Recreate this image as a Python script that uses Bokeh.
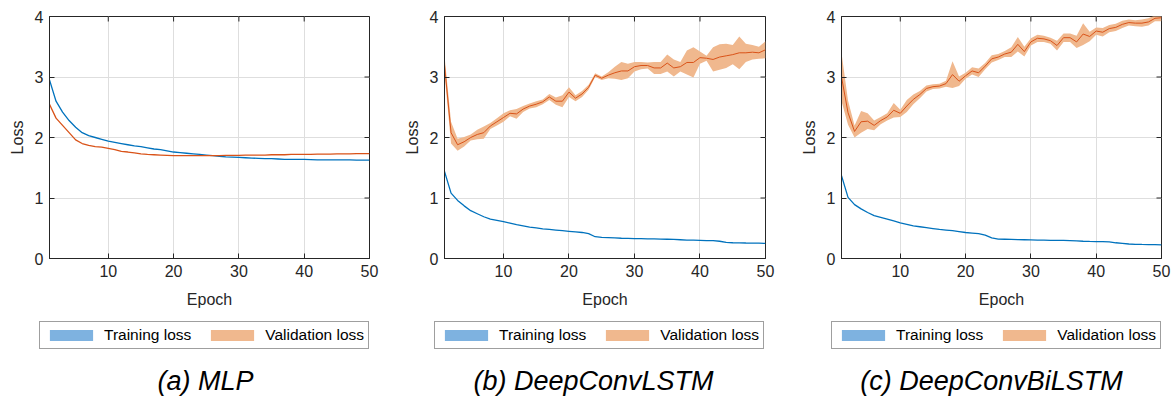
import math
from bokeh.plotting import figure
from bokeh.layouts import row, column
from bokeh.models import (Range1d, FixedTicker, Legend, LegendItem, Label, ColumnDataSource)
from bokeh.embed import file_html
from bokeh.resources import INLINE

epochs = list(range(1, 51))
x_ticks = [10, 20, 30, 40, 50]
y_ticks = [0, 1, 2, 3, 4]
captions = ["(a) MLP", "(b) DeepConvLSTM", "(c) DeepConvBiLSTM"]
legend_labels = ["Training loss", "Validation loss"]

mlp_train = [2.95, 2.60, 2.42, 2.28, 2.17, 2.08, 2.03, 2.00, 1.97, 1.94,
             1.92, 1.90, 1.88, 1.86, 1.85, 1.83, 1.81, 1.80, 1.78, 1.76,
             1.75, 1.74, 1.73, 1.72, 1.71, 1.70, 1.69, 1.68, 1.675, 1.67,
             1.665, 1.66, 1.655, 1.65, 1.65, 1.645, 1.64, 1.64, 1.64, 1.64,
             1.635, 1.63, 1.63, 1.63, 1.63, 1.63, 1.63, 1.625, 1.625, 1.625]
mlp_val = [2.55, 2.32, 2.20, 2.08, 1.96, 1.90, 1.87, 1.85, 1.84, 1.82,
           1.80, 1.77, 1.76, 1.745, 1.73, 1.72, 1.715, 1.71, 1.705, 1.70,
           1.70, 1.70, 1.70, 1.70, 1.70, 1.70, 1.70, 1.705, 1.705, 1.705,
           1.71, 1.71, 1.71, 1.71, 1.715, 1.715, 1.715, 1.72, 1.72, 1.72,
           1.72, 1.725, 1.725, 1.725, 1.73, 1.73, 1.73, 1.735, 1.735, 1.735]

lstm_train = [1.44, 1.08, 0.96, 0.87, 0.79, 0.74, 0.69, 0.65, 0.63, 0.61,
              0.585, 0.56, 0.54, 0.52, 0.505, 0.49, 0.48, 0.47, 0.46, 0.45,
              0.44, 0.43, 0.41, 0.36, 0.35, 0.345, 0.34, 0.335, 0.333, 0.33,
              0.328, 0.325, 0.323, 0.32, 0.318, 0.315, 0.31, 0.305, 0.303, 0.30,
              0.297, 0.295, 0.285, 0.265, 0.26, 0.258, 0.256, 0.255, 0.253, 0.25]
lstm_val = [3.20, 2.08, 1.88, 1.93, 2.00, 2.05, 2.08, 2.19, 2.26, 2.33,
            2.40, 2.39, 2.47, 2.52, 2.55, 2.59, 2.67, 2.60, 2.60, 2.75,
            2.65, 2.72, 2.83, 3.03, 2.98, 3.03, 3.07, 3.10, 3.10, 3.17,
            3.19, 3.19, 3.15, 3.15, 3.23, 3.15, 3.17, 3.24, 3.24, 3.32,
            3.31, 3.29, 3.33, 3.35, 3.37, 3.40, 3.40, 3.41, 3.40, 3.45]
lstm_val_std = [0.15, 0.18, 0.10, 0.08, 0.05, 0.08, 0.10, 0.05, 0.06, 0.07,
                0.05, 0.08, 0.05, 0.04, 0.05, 0.04, 0.05, 0.06, 0.10, 0.08,
                0.05, 0.05, 0.04, 0.03, 0.03, 0.05, 0.10, 0.15, 0.12, 0.08,
                0.06, 0.05, 0.10, 0.10, 0.14, 0.14, 0.08, 0.20, 0.25, 0.10,
                0.04, 0.20, 0.21, 0.20, 0.16, 0.27, 0.15, 0.12, 0.10, 0.14]

bilstm_train = [1.37, 1.01, 0.89, 0.82, 0.76, 0.71, 0.68, 0.65, 0.62, 0.59,
                0.565, 0.54, 0.525, 0.51, 0.495, 0.48, 0.47, 0.46, 0.445, 0.43,
                0.42, 0.41, 0.385, 0.34, 0.32, 0.318, 0.315, 0.312, 0.31, 0.308,
                0.305, 0.303, 0.301, 0.30, 0.298, 0.295, 0.29, 0.285, 0.282, 0.28,
                0.278, 0.275, 0.26, 0.25, 0.24, 0.235, 0.232, 0.23, 0.228, 0.225]
bilstm_val = [3.00, 2.41, 2.10, 2.26, 2.27, 2.20, 2.28, 2.34, 2.45, 2.40,
              2.52, 2.63, 2.71, 2.81, 2.84, 2.85, 2.89, 3.04, 2.93, 3.02,
              3.10, 3.07, 3.18, 3.30, 3.33, 3.38, 3.41, 3.54, 3.42, 3.58,
              3.64, 3.63, 3.60, 3.52, 3.65, 3.65, 3.58, 3.71, 3.67, 3.76,
              3.74, 3.80, 3.82, 3.87, 3.90, 3.89, 3.89, 3.91, 3.97, 3.98]
bilstm_val_std = [0.40, 0.20, 0.10, 0.18, 0.13, 0.08, 0.06, 0.06, 0.12, 0.06,
                  0.10, 0.08, 0.06, 0.05, 0.04, 0.04, 0.05, 0.22, 0.08, 0.05,
                  0.06, 0.07, 0.05, 0.06, 0.05, 0.05, 0.08, 0.12, 0.08, 0.06,
                  0.06, 0.05, 0.05, 0.08, 0.07, 0.07, 0.10, 0.18, 0.08, 0.06,
                  0.07, 0.06, 0.06, 0.06, 0.05, 0.05, 0.06, 0.06, 0.05, 0.06]

BLUE = "#0072BD"
ORANGE = "#D95319"
BLUE_FILL = "#7EB2E0"
ORANGE_FILL = "#F0B88E"
AX = "#262626"
FONT = "Liberation Sans"
TOTAL_W = 1171
TOP_H = 318
BOT_H = 80


def panel(train, val, val_std, width, left, right, val_lw):
    p = figure(width=width, height=TOP_H, output_backend="svg", toolbar_location=None,
               x_range=Range1d(1, 50), y_range=Range1d(0, 4),
               min_border_left=left, min_border_right=right,
               min_border_top=16, min_border_bottom=TOP_H - 16 - 242,
               x_axis_label="Epoch", y_axis_label="Loss")
    p.outline_line_color = AX
    p.outline_line_width = 1
    p.xaxis.ticker = FixedTicker(ticks=x_ticks)
    p.yaxis.ticker = FixedTicker(ticks=y_ticks)
    for ax in (p.xaxis[0], p.yaxis[0]):
        ax.major_tick_in = 5
        ax.major_tick_out = 0
        ax.minor_tick_line_color = None
        ax.axis_line_color = AX
        ax.major_tick_line_color = AX
        ax.major_label_text_font = FONT
        ax.major_label_text_font_size = "16px"
        ax.major_label_text_color = AX
        ax.axis_label_text_font = FONT
        ax.axis_label_text_font_size = "16px"
        ax.axis_label_text_font_style = "normal"
        ax.axis_label_text_color = AX
    p.xaxis.major_label_standoff = 6
    p.xaxis.axis_label_standoff = 11
    p.yaxis.major_label_standoff = 6
    p.yaxis.axis_label_standoff = 6
    p.grid.grid_line_color = "#dedede"
    p.grid.grid_line_width = 1

    # mirrored inward ticks on the top and right edges of the box
    p.ray(x=x_ticks, y=[4] * len(x_ticks), length=5, length_units="screen",
          angle=-math.pi / 2, line_color=AX, line_width=1)
    p.ray(x=[50] * len(y_ticks), y=y_ticks, length=5, length_units="screen",
          angle=math.pi, line_color=AX, line_width=1)

    if val_std is None:
        lo_v, hi_v = val, val
    else:
        lo_v = [v - s for v, s in zip(val, val_std)]
        hi_v = [v + s for v, s in zip(val, val_std)]
    src = ColumnDataSource(dict(x=epochs, train=train, val=val, lo_v=lo_v, hi_v=hi_v))
    p.varea(x="x", y1="train", y2="train", source=src, fill_color=BLUE_FILL)
    p.line(x="x", y="train", source=src, line_color=BLUE, line_width=1.3)
    p.varea(x="x", y1="lo_v", y2="hi_v", source=src, fill_color=ORANGE_FILL)
    p.line(x="x", y="val", source=src, line_color=ORANGE, line_width=val_lw)
    return p


p1 = panel(mlp_train, mlp_val, None, 395, 49, 26, 1.3)
p2 = panel(lstm_train, lstm_val, lstm_val_std, 397, 49, 27, 1.0)
p3 = panel(bilstm_train, bilstm_val, bilstm_val_std, 379, 49, 10, 1.0)

# lower strip spanning the full width: one legend and one caption per panel
strip = figure(width=TOTAL_W, height=BOT_H, output_backend="svg", toolbar_location=None,
               x_range=Range1d(0, TOTAL_W), y_range=Range1d(0, BOT_H),
               x_axis_location=None, y_axis_location=None,
               min_border=0, min_border_left=0, min_border_right=0,
               min_border_top=0, min_border_bottom=0)
strip.grid.visible = False
strip.outline_line_color = None
# zero-height swatch renderers used only by the legends
sw_src = ColumnDataSource(dict(x=epochs, train=mlp_train, val=mlp_val))
sw_t = strip.varea(x="x", y1="train", y2="train", source=sw_src, fill_color=BLUE_FILL)
sw_v = strip.varea(x="x", y1="val", y2="val", source=sw_src, fill_color=ORANGE_FILL)

frame_lefts = [49, 444, 841]
caption_centers = [205, 593, 991]
for fl, cc, cap in zip(frame_lefts, caption_centers, captions):
    leg = Legend(items=[LegendItem(label=legend_labels[0], renderers=[sw_t]),
                        LegendItem(label=legend_labels[1], renderers=[sw_v])],
                 location=(fl - 10, BOT_H - 31), orientation="horizontal",
                 glyph_width=54, glyph_height=14, label_standoff=6, spacing=14,
                 padding=4, margin=0, label_height=16,
                 label_text_font=FONT, label_text_font_size="15.5px",
                 label_text_color="#000000",
                 border_line_color="#404040", border_line_width=1,
                 background_fill_color="white", background_fill_alpha=1.0)
    strip.add_layout(leg, "center")
    strip.add_layout(Label(x=cc, y=18, text=cap,
                           text_align="center", text_baseline="middle",
                           text_font=FONT, text_font_size="27px", text_font_style="italic",
                           text_color="#000000"))

layout = column(row(p1, p2, p3, spacing=0), strip, spacing=0)
open("out.html", "w").write(file_html(layout, INLINE))
